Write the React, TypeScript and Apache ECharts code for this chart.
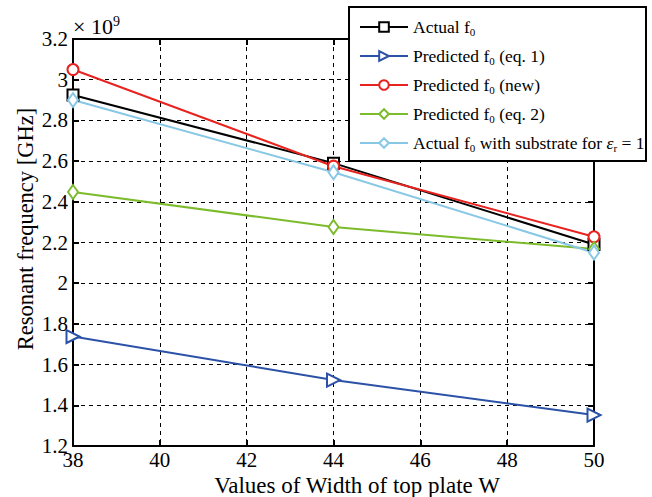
import React, { useEffect, useRef } from "react";
import * as echarts from "echarts";

const widths = [38, 44, 50];
const actualF0 = [2.925, 2.59, 2.19];
const predictedEq1 = [1.738, 1.524, 1.352];
const predictedNew = [3.05, 2.575, 2.228];
const predictedEq2 = [2.448, 2.276, 2.168];
const actualEr1 = [2.9, 2.545, 2.15];
const xTicks = [38, 40, 42, 44, 46, 48, 50];
const yTicks = [1.2, 1.4, 1.6, 1.8, 2, 2.2, 2.4, 2.6, 2.8, 3, 3.2];

const seriesNames = [
  "Actual f0",
  "Predicted f0 (eq. 1)",
  "Predicted f0 (new)",
  "Predicted f0 (eq. 2)",
  "Actual f0 with substrate",
];
const legendLabels: Record<string, string> = {
  "Actual f0": "Actual f{sub|0}",
  "Predicted f0 (eq. 1)": "Predicted f{sub|0} (eq. 1)",
  "Predicted f0 (new)": "Predicted f{sub|0} (new)",
  "Predicted f0 (eq. 2)": "Predicted f{sub|0} (eq. 2)",
  "Actual f0 with substrate": "Actual f{sub|0} with substrate for {it|ε}{sub|r} = 1",
};

const FONT = "Liberation Serif";

export default function App() {
  const ref = useRef<HTMLDivElement>(null);
  useEffect(() => {
    document.body.style.margin = "0";
    const chart = echarts.init(ref.current!, null, { renderer: "svg" });
    const L = 73, T = 39, W = 521, H = 407;
    const mk = (name: string, data: number[], color: string, symbol: string, extra: any = {}) => ({
      name,
      type: "line",
      data: widths.map((w, i) => [w, data[i]]),
      symbol,
      symbolSize: 11,
      showAllSymbol: true,
      lineStyle: { color, width: 2 },
      itemStyle: { color, borderWidth: 2 },
      z: 2,
      ...extra,
    });
    const fmt = (v: number) => String(parseFloat(v.toFixed(1)));
    chart.setOption({
      animation: false,
      backgroundColor: "#ffffff",
      grid: { left: L, top: T, width: W, height: H, show: false },
      xAxis: [
        {
          type: "value", min: xTicks[0], max: xTicks[xTicks.length - 1], interval: 2,
          axisLine: { show: true, lineStyle: { color: "#000", width: 2 } },
          axisTick: { show: true, inside: true, length: 6, lineStyle: { color: "#000", width: 2 } },
          axisLabel: { color: "#000", fontFamily: FONT, fontSize: 21, margin: 3, formatter: (v: number) => String(v) },
          splitLine: { show: true, lineStyle: { color: "#000", type: [4, 4], width: 1 } },
        },
        {
          type: "value", position: "top", min: xTicks[0], max: xTicks[xTicks.length - 1], interval: 2,
          axisLine: { show: true, onZero: false, lineStyle: { color: "#000", width: 2 } },
          axisTick: { show: true, inside: true, length: 6, lineStyle: { color: "#000", width: 2 } },
          axisLabel: { show: false },
          splitLine: { show: false },
        },
      ],
      yAxis: [
        {
          type: "value", min: yTicks[0], max: yTicks[yTicks.length - 1], interval: 0.2,
          axisLine: { show: true, lineStyle: { color: "#000", width: 2 } },
          axisTick: { show: true, inside: true, length: 6, lineStyle: { color: "#000", width: 2 } },
          axisLabel: { color: "#000", fontFamily: FONT, fontSize: 21, margin: 5, formatter: fmt },
          splitLine: { show: true, lineStyle: { color: "#000", type: [4, 4], width: 1 } },
        },
        {
          type: "value", position: "right", min: yTicks[0], max: yTicks[yTicks.length - 1], interval: 0.2,
          axisLine: { show: true, onZero: false, lineStyle: { color: "#000", width: 2 } },
          axisTick: { show: true, inside: true, length: 6, lineStyle: { color: "#000", width: 2 } },
          axisLabel: { show: false },
          splitLine: { show: false },
        },
      ],
      legend: {
        orient: "vertical",
        left: 349,
        top: 7,
        padding: [10, 10, 8, 10],
        itemWidth: 48,
        itemHeight: 12,
        itemGap: 9,
        z: 10,
        data: seriesNames,
        formatter: (name: string) => legendLabels[name],
        textStyle: {
          color: "#000",
          fontFamily: FONT,
          fontSize: 17.5,
          lineHeight: 20,
          rich: {
            sub: { fontFamily: FONT, fontSize: 11, color: "#000", padding: [9, 0, 0, 0], lineHeight: 20 },
            it: { fontFamily: FONT, fontSize: 17.5, fontStyle: "italic", color: "#000", lineHeight: 20 },
          },
        },
      },
      graphic: [
        {
          type: "rect",
          z: 9,
          shape: { x: 349, y: 7, width: 297, height: 154 },
          style: { fill: "#fff", stroke: "#000", lineWidth: 2 },
        },
        {
          type: "text",
          left: 73,
          top: 14,
          z: 10,
          style: {
            text: "× 10{sup|9}",
            fontFamily: FONT,
            fontSize: 22,
            fill: "#000",
            rich: { sup: { fontFamily: FONT, fontSize: 14, fill: "#000", padding: [0, 0, 10, 0] } },
          },
        },
        {
          type: "text",
          x: 357,
          y: 485,
          z: 10,
          style: {
            text: "Values of Width of top plate W",
            fontFamily: FONT,
            fontSize: 23,
            fill: "#000",
            align: "center",
            verticalAlign: "middle",
          },
        },
        {
          type: "text",
          x: 25,
          y: 229,
          rotation: Math.PI / 2,
          z: 10,
          style: {
            text: "Resonant frequency [GHz]",
            fontFamily: FONT,
            fontSize: 22.5,
            fill: "#000",
            align: "center",
            verticalAlign: "middle",
          },
        },
      ],
      series: [
        mk(seriesNames[0], actualF0, "#000000", "emptyRect"),
        mk(seriesNames[1], predictedEq1, "#2b52a6", "emptyTriangle", { symbolRotate: -90, symbolSize: 13 }),
        mk(seriesNames[2], predictedNew, "#e8231f", "emptyCircle"),
        mk(seriesNames[3], predictedEq2, "#7cbb2b", "emptyDiamond", { symbolSize: [10, 14] }),
        mk(seriesNames[4], actualEr1, "#88c8e6", "emptyDiamond", { symbolSize: [10, 14] }),
      ],
    });
    return () => chart.dispose();
  }, []);
  return <div ref={ref} style={{ width: 652, height: 497 }} />;
}
